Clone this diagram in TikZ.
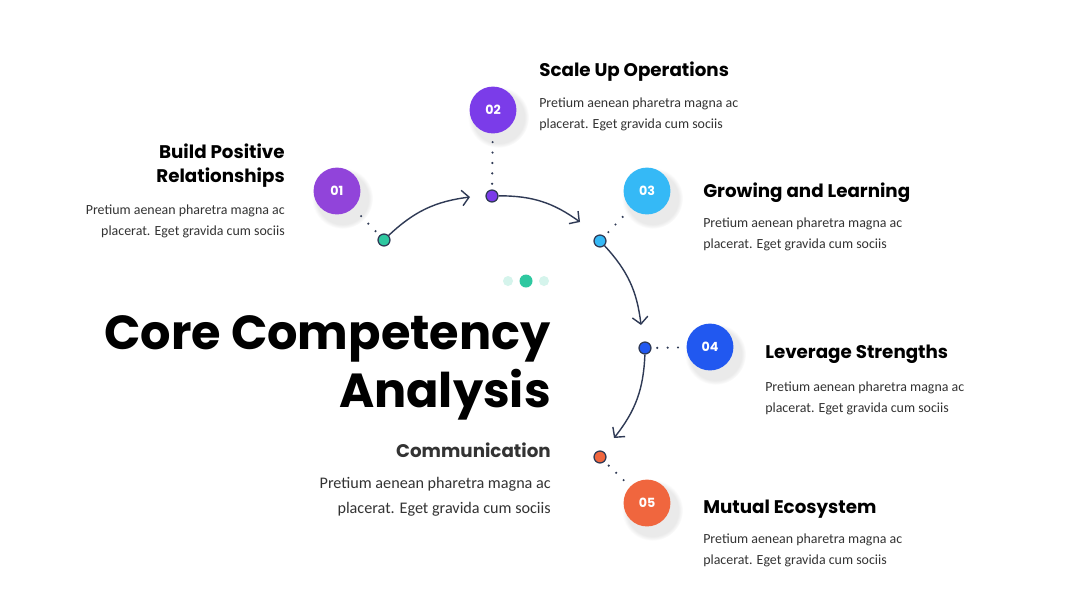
\documentclass[tikz,border=0pt]{standalone}
\usepackage{fontspec}
\setmainfont{Carlito}
\newfontfamily\headfont{Poppins}
\usetikzlibrary{arrows.meta,shadows}

\definecolor{navy}{HTML}{2F3A55}
\definecolor{cOne}{HTML}{9144DA}
\definecolor{cTwo}{HTML}{7B3CE9}
\definecolor{cThree}{HTML}{35B9F6}
\definecolor{cFour}{HTML}{2158F0}
\definecolor{cFive}{HTML}{F0663E}
\definecolor{mint}{HTML}{2EC8A0}
\definecolor{bodygray}{HTML}{333333}

\tikzset{
  bigdot/.style={circle, minimum size=47*0.709pt, inner sep=0pt, text=white,
    font=\headfont\bfseries\fontsize{9}{10}\selectfont,
    circular drop shadow={shadow xshift=3pt, shadow yshift=-4pt, shadow scale=1.3, opacity=0.16}},
  smalldot/.style={circle, draw=navy, line width=0.9pt, minimum size=8.5pt, inner sep=0pt},
  dotline/.style={navy, line width=1.7pt, line cap=round, dash pattern=on 0pt off 7.4pt,
    shorten <=4pt, shorten >=4pt},
  arc/.style={navy, line width=1pt, -{Straight Barb[length=5pt, width=11pt, line width=1pt]}},
  heading/.style={font=\headfont\bfseries\fontsize{13}{17}\selectfont, inner sep=0pt, text=black},
  body/.style={font=\fontsize{9.9}{14.9}\selectfont, inner sep=0pt, text=bodygray}
}

\begin{document}
\begin{tikzpicture}[x=0.025cm, y=-0.025cm]
    \useasboundingbox[fill=white] (0,0) rectangle (1080,608);

    % Title
    \node[anchor=base east, inner sep=0pt, align=right,
          font=\headfont\bfseries\fontsize{34}{41}\selectfont] (title) at (551,407)
          {Core Competency\\Analysis};
    \fill[mint!20] (508,281) circle (5);
    \fill[mint] (526,281) circle (6.5);
    \fill[mint!20] (544,281) circle (5);

    % Big circles
    \node[bigdot, fill=cOne]   (c1) at (337,191) {01};
    \node[bigdot, fill=cTwo]   (c2) at (493,110) {02};
    \node[bigdot, fill=cThree] (c3) at (647,191) {03};
    \node[bigdot, fill=cFour]  (c4) at (710,347) {04};
    \node[bigdot, fill=cFive]  (c5) at (647,503) {05};

    % Small dots
    \node[smalldot, fill=mint]   (d1) at (384,240) {};
    \node[smalldot, fill=cTwo]   (d2) at (492,196) {};
    \node[smalldot, fill=cThree] (d3) at (600,241) {};
    \node[smalldot, fill=cFour]  (d4) at (645,348) {};
    \node[smalldot, fill=cFive]  (d5) at (600,457) {};

    \draw[dotline] (d1) -- (c1);
    \draw[dotline] (d2) -- (c2);
    \draw[dotline] (d3) -- (c3);
    \draw[dotline] (d4) -- (c4);
    \draw[dotline] (d5) -- (c5);

    % Arrows
    \coordinate (a1) at (470,197);
    \coordinate (a2) at (580,222);
    \coordinate (a3) at (641,325);
    \coordinate (a4) at (614,438);
    \draw[arc] (d1) to[bend left=18] (a1);
    \draw[arc] (d2) to[bend left=18] (a2);
    \draw[arc] (d3) to[bend left=18] (a3);
    \draw[arc] (d4) to[bend left=18] (a4);

    % Step 1
    \node[heading, anchor=base east, align=right] (h1) at (285,182)
          {Build Positive\\Relationships};
    \node[body, anchor=base east, align=right] (b1) at (285,235)
          {Pretium aenean pharetra magna ac\\placerat. Eget gravida cum sociis};

    % Step 2
    \node[heading, anchor=base west] (h2) at (539,76) {Scale Up Operations};
    \node[body, anchor=base west, align=left] (b2) at (539,128)
          {Pretium aenean pharetra magna ac\\placerat. Eget gravida cum sociis};

    % Step 3
    \node[heading, anchor=base west] (h3) at (703,197) {Growing and Learning};
    \node[body, anchor=base west, align=left] (b3) at (703,248)
          {Pretium aenean pharetra magna ac\\placerat. Eget gravida cum sociis};

    % Step 4
    \node[heading, anchor=base west] (h4) at (765,358) {Leverage Strengths};
    \node[body, anchor=base west, align=left] (b4) at (765,412)
          {Pretium aenean pharetra magna ac\\placerat. Eget gravida cum sociis};

    % Step 5
    \node[heading, anchor=base west] (h5) at (703,513) {Mutual Ecosystem};
    \node[body, anchor=base west, align=left] (b5) at (703,564)
          {Pretium aenean pharetra magna ac\\placerat. Eget gravida cum sociis};

    % Communication
    \node[heading, anchor=base east, text=bodygray] (hc) at (551,457) {Communication};
    \node[body, anchor=base east, align=right, font=\fontsize{11.5}{17.7}\selectfont] (bc) at (551,513)
          {Pretium aenean pharetra magna ac\\placerat. Eget gravida cum sociis};
\end{tikzpicture}
\end{document}
